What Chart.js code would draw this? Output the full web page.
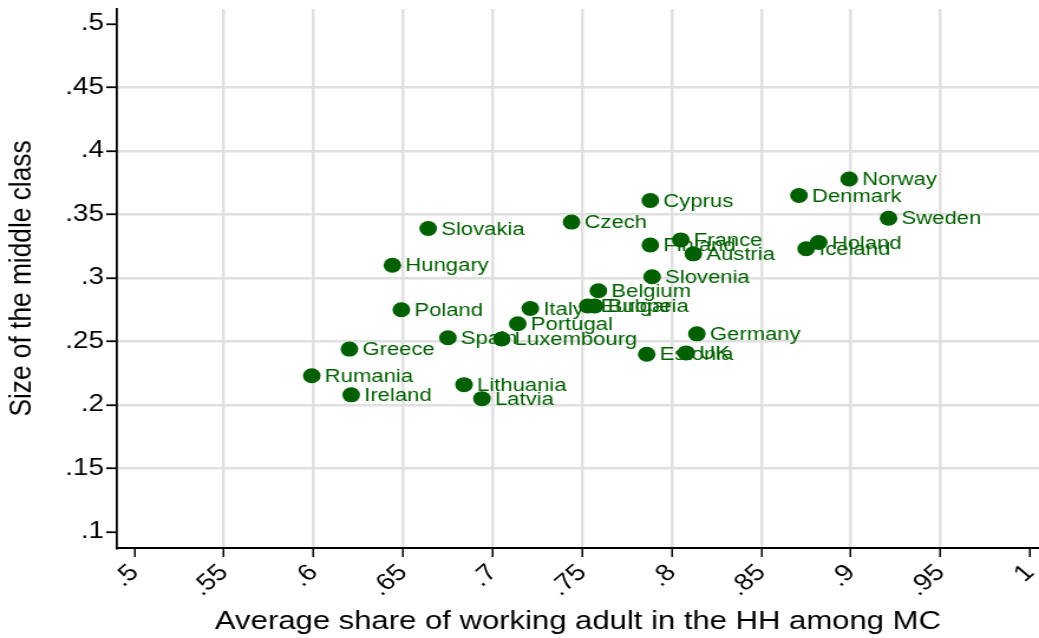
<!DOCTYPE html>
<html>
<head>
<meta charset="utf-8">
<script src="https://cdn.jsdelivr.net/npm/chart.js@4/dist/chart.umd.min.js"></script>
<style>
  html, body { margin: 0; padding: 0; background: #fff; }
</style>
</head>
<body>
<!-- the source graph is stretched sideways, so the canvas is drawn narrow and widened -->
<canvas id="chart" width="880" height="638" style="width:1039px;height:638px"></canvas>
<script>
const countries = ['Norway', 'Denmark', 'Sweden', 'Holand', 'Iceland', 'Cyprus', 'Czech', 'Slovakia',
  'Hungary', 'Finland', 'France', 'Austria', 'Slovenia', 'Belgium', 'Europe', 'Bulgaria', 'Italy',
  'Portugal', 'Spain', 'Luxembourg', 'Poland', 'Greece', 'Rumania', 'Ireland', 'Lithuania', 'Latvia',
  'Estonia', 'UK', 'Germany'];
const shareWorking = [0.899, 0.871, 0.921, 0.882, 0.875, 0.788, 0.744, 0.664,
  0.644, 0.788, 0.805, 0.812, 0.789, 0.759, 0.753, 0.757, 0.721,
  0.714, 0.675, 0.705, 0.649, 0.620, 0.599, 0.621, 0.684, 0.694,
  0.786, 0.808, 0.814];
const middleSize = [0.378, 0.365, 0.347, 0.328, 0.323, 0.361, 0.344, 0.339,
  0.310, 0.326, 0.330, 0.319, 0.301, 0.290, 0.278, 0.278, 0.276,
  0.264, 0.253, 0.252, 0.275, 0.244, 0.223, 0.208, 0.216, 0.205,
  0.240, 0.241, 0.256];
const xTicks = [0.5, 0.55, 0.6, 0.65, 0.7, 0.75, 0.8, 0.85, 0.9, 0.95, 1];
const yTicks = [0.1, 0.15, 0.2, 0.25, 0.3, 0.35, 0.4, 0.45, 0.5];

const green = '#006000';
const gridGray = '#e0e0e0';

function stataLabel(v) {
  return String(v).replace(/^0\./, '.');
}

const pointLabels = {
  id: 'pointLabels',
  afterDatasetsDraw(chart) {
    const ctx = chart.ctx;
    const meta = chart.getDatasetMeta(0);
    ctx.save();
    ctx.font = '18.7px "Liberation Sans", Arial, sans-serif';
    ctx.fillStyle = green;
    ctx.textAlign = 'left';
    ctx.textBaseline = 'middle';
    meta.data.forEach((pt, i) => {
      ctx.fillText(countries[i], pt.x + 11, pt.y + 1);
    });
    ctx.restore();
  }
};

const points = shareWorking.map((x, i) => ({ x: x, y: middleSize[i] }));

new Chart(document.getElementById('chart'), {
  type: 'scatter',
  data: {
    datasets: [{
      data: points,
      backgroundColor: green,
      borderColor: green,
      borderWidth: 0,
      pointRadius: 7.5,
      pointHoverRadius: 7.5
    }]
  },
  options: {
    responsive: false,
    devicePixelRatio: 1,
    animation: false,
    events: [],
    layout: { autoPadding: false, padding: { top: 9, right: 0, bottom: 0, left: 0 } },
    plugins: { legend: { display: false }, tooltip: { enabled: false } },
    scales: {
      x: {
        type: 'linear',
        min: 0.4902,
        max: 1.005,
        afterBuildTicks: (s) => { s.ticks = xTicks.map(v => ({ value: v })); },
        afterFit: (s) => {
          s.height = 90;
          s.paddingLeft = 0; s.paddingRight = 0;
        },
        ticks: {
          color: '#000',
          font: { family: '"Liberation Sans", Arial, sans-serif', size: 23.5 },
          minRotation: 45,
          maxRotation: 45,
          padding: 2,
          autoSkip: false,
          callback: (v) => stataLabel(v)
        },
        grid: {
          color: (c) => (c.tick && (c.tick.value === 0.5 || c.tick.value === 1)) ? 'rgba(0,0,0,0)' : gridGray,
          lineWidth: 2.5,
          tickColor: '#000',
          tickWidth: 1.5,
          tickLength: 9
        },
        border: { display: true, color: '#000', width: 2 },
        title: {
          display: true,
          text: 'Average share of working adult in the HH among MC',
          color: '#000',
          font: { family: '"Liberation Sans", Arial, sans-serif', size: 26.3 },
          padding: { top: 0, bottom: 0 }
        }
      },
      y: {
        type: 'linear',
        min: 0.0874,
        max: 0.5118,
        afterBuildTicks: (s) => { s.ticks = yTicks.map(v => ({ value: v })); },
        afterFit: (s) => {
          s.width = 99;
          s.paddingTop = 0; s.paddingBottom = 0;
        },
        ticks: {
          color: '#000',
          font: { family: '"Liberation Sans", Arial, sans-serif', size: 23.5 },
          padding: 2,
          autoSkip: false,
          callback: (v) => stataLabel(v)
        },
        grid: {
          color: (c) => (c.tick && (c.tick.value === 0.1 || c.tick.value === 0.5)) ? 'rgba(0,0,0,0)' : gridGray,
          lineWidth: 2.5,
          tickColor: '#000',
          tickWidth: 1.8,
          tickLength: 9
        },
        border: { display: true, color: '#000', width: 1.8 },
        title: {
          display: true,
          text: 'Size of the middle class',
          color: '#000',
          font: { family: '"Liberation Sans", Arial, sans-serif', size: 26.3 },
          padding: { top: 3, bottom: 0 }
        }
      }
    }
  },
  plugins: [pointLabels]
});
</script>
</body>
</html>
